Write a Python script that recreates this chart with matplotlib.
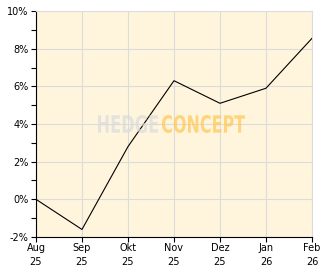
import numpy as np
import matplotlib
matplotlib.use("Agg")
import matplotlib.pyplot as plt
from matplotlib.ticker import MultipleLocator
from matplotlib.textpath import TextPath
from matplotlib.patches import PathPatch
from matplotlib.font_manager import FontProperties
from matplotlib.transforms import Affine2D, IdentityTransform

# Monate und Werte (in %)
months = ["Aug\n25", "Sep\n25", "Okt\n25", "Nov\n25", "Dez\n25", "Jan\n26", "Feb\n26"]
values = [0.0, -1.6, 2.8, 6.3, 5.1, 5.9, 8.55]
y_ticks = [-2, 0, 2, 4, 6, 8, 10]

fig = plt.figure(figsize=(3.32, 2.69), dpi=100)
ax = fig.add_axes([0.1084, 0.119, 0.8313, 0.840])
ax.set_facecolor("#fff5dc")

x = np.arange(len(months))
ax.plot(x, values, color="black", linewidth=0.8, zorder=3)

ax.set_xlim(0, len(months) - 1)
ax.set_ylim(-2, 10)
ax.set_xticks(x)
ax.set_xticklabels(months, fontsize=7, linespacing=1.5)
ax.set_yticks(y_ticks)
ax.set_yticklabels([f"{v}%" for v in y_ticks], fontsize=7)
ax.yaxis.set_minor_locator(MultipleLocator(1))

ax.grid(True, which="major", color="#dcdcdc", linewidth=0.8, zorder=0)
ax.tick_params(which="both", direction="out", length=3.5, width=0.8, pad=2)
ax.tick_params(axis="x", pad=1)

for side in ["top", "right"]:
    ax.spines[side].set_color("#dcdcdc")
for side in ["left", "bottom"]:
    ax.spines[side].set_color("black")


# Wasserzeichen: schmale, fette Schrift -> Textpfad in eine Pixelbox quetschen
def watermark(text, x0, x1, y0, y1, color):
    tp = TextPath((0, 0), text, size=10, prop=FontProperties(family="DejaVu Sans", weight="bold"))
    bb = tp.get_extents()
    tr = (Affine2D().translate(-bb.x0, -bb.y0)
          .scale((x1 - x0) / bb.width, (y1 - y0) / bb.height)
          .translate(x0, y0))
    patch = PathPatch(tr.transform_path(tp), facecolor=color, edgecolor="none",
                      alpha=0.7, transform=IdentityTransform(), zorder=4)
    fig.patches.append(patch)
    patch.set_figure(fig)


# Pixel, von unten gezählt
watermark("HEDGE", 98, 158, 136, 154, "#d8dadc")
watermark("CONCEPT", 162, 245, 136, 154, "#fec653")

fig.savefig("out.png", dpi=100)
